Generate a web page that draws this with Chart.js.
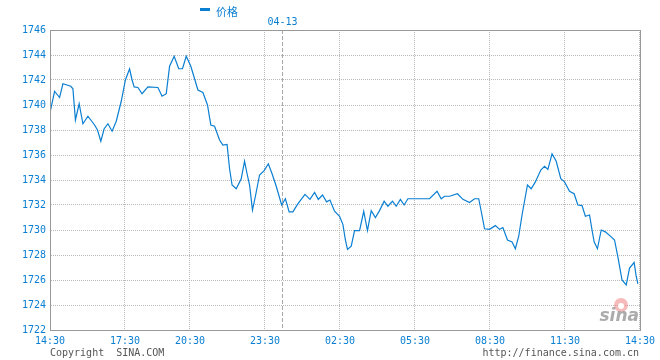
<!DOCTYPE html>
<html>
<head>
<meta charset="utf-8">
<script src="https://cdn.jsdelivr.net/npm/chart.js@4"></script>
<style>
  body { margin: 0; background: #fff; }
  canvas { display: block; }
</style>
</head>
<body>
<canvas id="priceChart" width="660" height="360"></canvas>
<script>
// position along the axis in minutes after 14:30 (axis spans 0..1416)
const minutes = [
    0, 11, 23, 31, 50, 55, 61, 70, 79, 91, 107, 114, 122, 130, 139, 149, 159, 171, 181, 191,
    197, 202, 211, 221, 235, 259, 269, 279, 287, 298, 309, 318, 327, 338, 347, 355, 367, 378, 386, 395,
    407, 415, 425, 431, 437, 447, 459, 467, 473, 479, 486, 493, 503, 514, 524, 533, 543, 556, 565, 574,
    583, 594, 612, 624, 635, 644, 654, 664, 672, 683, 695, 703, 709, 714, 723, 731, 743, 753, 757, 762,
    771, 781, 791, 802, 811, 822, 831, 841, 850, 859, 911, 929, 939, 947, 959, 978, 991, 1007, 1019, 1029,
    1035, 1043, 1055, 1069, 1079, 1087, 1098, 1109, 1117, 1125, 1133, 1146, 1155, 1165, 1178, 1187, 1195, 1205, 1215, 1226,
    1235, 1247, 1258, 1267, 1277, 1285, 1295, 1301, 1306, 1314, 1323, 1333, 1347, 1355, 1363, 1373, 1383, 1391, 1402, 1407,
    1411
];
const prices = [
    1739.4, 1741.1, 1740.6, 1741.7, 1741.5, 1741.3, 1738.8, 1740.1, 1738.5, 1739.1, 1738.4, 1738.0, 1737.1, 1738.1, 1738.5, 1737.9, 1738.7, 1740.3, 1742.0, 1742.9,
    1742.0, 1741.45, 1741.4, 1740.9, 1741.45, 1741.4, 1740.7, 1740.9, 1743.1, 1743.9, 1742.9, 1742.9, 1743.9, 1743.1, 1742.1, 1741.2, 1741.0, 1740.0, 1738.4, 1738.3,
    1737.2, 1736.8, 1736.85, 1734.9, 1733.6, 1733.3, 1734.1, 1735.5, 1734.5, 1733.6, 1731.6, 1732.7, 1734.4, 1734.75, 1735.3, 1734.5, 1733.5, 1732.0, 1732.5, 1731.45,
    1731.45, 1732.05, 1732.85, 1732.45, 1733.0, 1732.45, 1732.8, 1732.25, 1732.4, 1731.5, 1731.1, 1730.45, 1729.2, 1728.45, 1728.7, 1729.95, 1729.95, 1731.5, 1730.8, 1729.95,
    1731.55, 1731.0, 1731.55, 1732.3, 1731.9, 1732.3, 1731.9, 1732.45, 1732.0, 1732.5, 1732.5, 1733.1, 1732.5, 1732.7, 1732.7, 1732.9, 1732.45, 1732.2, 1732.5, 1732.5,
    1731.5, 1730.1, 1730.05, 1730.35, 1730.05, 1730.2, 1729.2, 1729.05, 1728.5, 1729.5, 1731.2, 1733.6, 1733.3, 1733.85, 1734.8, 1735.1, 1734.85, 1736.1, 1735.5, 1734.1,
    1733.85, 1733.1, 1732.9, 1732.0, 1731.95, 1731.1, 1731.2, 1730.0, 1729.05, 1728.5, 1730.0, 1729.85, 1729.45, 1729.2, 1727.85, 1726.0, 1725.6, 1726.95, 1727.4, 1726.3,
    1725.7
];

const tickMinutes = [0, 180, 336, 516, 696, 876, 1056, 1236, 1416];
const tickLabels = ['14:30', '17:30', '20:30', '23:30', '02:30', '05:30', '08:30', '11:30', '14:30'];
const dayBreakMinute = 558;
const dayBreakLabel = '04-13';
const seriesName = '价格';
const priceMin = 1722;
const priceMax = 1746;
const priceStep = 2;

const blue = '#0a7fd2';
const monoFont = { family: '"DejaVu Sans Mono", monospace', size: 10 };

// dashed day separator, drawn under the line
const dayBreakPlugin = {
    id: 'dayBreak',
    beforeDatasetsDraw(chart) {
        const ctx = chart.ctx;
        const area = chart.chartArea;
        const x = Math.round(chart.scales.x.getPixelForValue(dayBreakMinute)) + 0.5;
        ctx.save();
        ctx.strokeStyle = '#aaaaaa';
        ctx.lineWidth = 1;
        ctx.setLineDash([4, 2]);
        ctx.beginPath();
        ctx.moveTo(x, area.top);
        ctx.lineTo(x, area.bottom);
        ctx.stroke();
        ctx.restore();

        ctx.save();
        ctx.fillStyle = blue;
        ctx.font = '10px "DejaVu Sans Mono", monospace';
        ctx.textAlign = 'center';
        ctx.textBaseline = 'middle';
        ctx.fillText(dayBreakLabel, x, 22);
        ctx.restore();
    }
};

// frame, legend, footer texts and logo
const decorPlugin = {
    id: 'decor',
    afterDraw(chart) {
        const ctx = chart.ctx;
        const a = chart.chartArea;
        ctx.save();
        ctx.strokeStyle = '#999999';
        ctx.lineWidth = 1;
        ctx.strokeRect(Math.round(a.left) + 0.5, Math.round(a.top) + 0.5,
            Math.round(a.right - a.left), Math.round(a.bottom - a.top));

        // legend
        ctx.fillStyle = blue;
        ctx.fillRect(200, 8, 10, 3);
        ctx.font = '11px "Noto Sans CJK SC", sans-serif';
        ctx.textBaseline = 'middle';
        ctx.textAlign = 'left';
        ctx.fillText(seriesName, 216, 12);

        // footer
        ctx.fillStyle = '#555555';
        ctx.font = '10px "DejaVu Sans Mono", monospace';
        ctx.fillText('Copyright  SINA.COM', 50, 353);
        ctx.textAlign = 'right';
        ctx.fillText('http://finance.sina.com.cn', 639, 353);

        // sina watermark
        ctx.fillStyle = 'rgba(240,130,130,0.55)';
        ctx.beginPath();
        ctx.arc(621, 305, 7, 0, Math.PI * 2);
        ctx.fill();
        ctx.fillStyle = '#ffffff';
        ctx.beginPath();
        ctx.arc(621, 306, 3, 0, Math.PI * 2);
        ctx.fill();
        ctx.fillStyle = 'rgba(150,150,150,0.8)';
        ctx.font = 'italic bold 17px "DejaVu Sans", sans-serif';
        ctx.textAlign = 'right';
        ctx.textBaseline = 'alphabetic';
        ctx.fillText('sina', 639, 321);
        ctx.restore();
    }
};

const ctx = document.getElementById('priceChart').getContext('2d');
const chart = new Chart(ctx, {
    type: 'line',
    data: {
        datasets: [{
            label: seriesName,
            data: minutes.map((m, i) => ({ x: m, y: prices[i] })),
            borderColor: blue,
            borderWidth: 1.2,
            pointRadius: 0,
            tension: 0,
            fill: false
        }]
    },
    options: {
        responsive: false,
        animation: false,
        layout: { padding: { left: 0, right: 20, top: 30, bottom: 0 } },
        plugins: {
            legend: { display: false },
            tooltip: { enabled: false }
        },
        scales: {
            x: {
                type: 'linear',
                min: 0,
                max: 1416,
                afterBuildTicks: scale => {
                    scale.ticks = tickMinutes.map(v => ({ value: v }));
                },
                afterFit: scale => { scale.height = 30; },
                grid: { color: '#b8b8b8', drawTicks: false },
                border: { display: true, color: '#999999', dash: [1, 1] },
                ticks: {
                    callback: (value, index) => tickLabels[index],
                    autoSkip: false,
                    maxRotation: 0,
                    padding: 5,
                    color: blue,
                    font: monoFont
                }
            },
            y: {
                min: priceMin,
                max: priceMax,
                afterFit: scale => { scale.width = 50; },
                grid: { color: '#b8b8b8', drawTicks: false },
                border: { display: true, color: '#999999', dash: [1, 1] },
                ticks: {
                    stepSize: priceStep,
                    callback: value => String(value),
                    padding: 4,
                    color: blue,
                    font: monoFont
                }
            }
        }
    },
    plugins: [dayBreakPlugin, decorPlugin]
});
</script>
</body>
</html>
